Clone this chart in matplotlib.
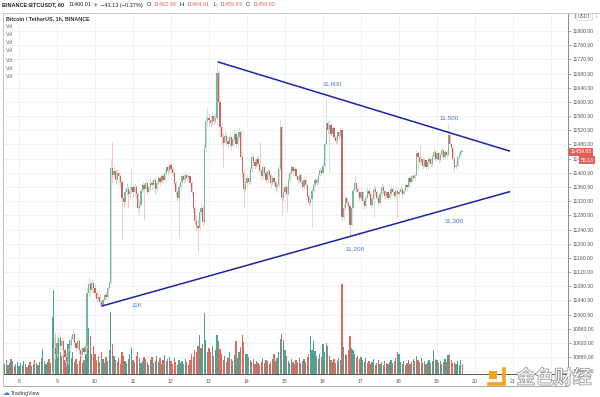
import numpy as np
import matplotlib
matplotlib.use('Agg')
import matplotlib.pyplot as plt
import matplotlib.transforms as mtransforms
import matplotlib.patheffects as pe
from matplotlib.patches import Rectangle

# BTCUSDT 1h candles, 7 Oct 14:00 .. 19 Oct 16:00 (one row per day)
first_open = 10650
closes = [
    10660, 10670, 10665, 10680, 10675, 10690, 10685, 10670, 10680, 10690,
    10700, 10715, 10705, 10725, 10740, 10735, 10750, 10745, 10760, 10770, 10755, 10775, 10785, 10770, 10790, 10800, 10785, 10795, 10810, 10800, 10815, 10825, 10905, 10890,
    10920, 10935, 10910, 10925, 10900, 10880, 10870, 10895, 10915, 10930, 10945, 10920, 10905, 10925, 10900, 10885, 10905, 10895, 10910, 11060, 11085, 11070, 11090, 11075,
    11060, 11045, 11050, 11035, 11025, 11040, 11055, 11050, 11075, 11090, 11414, 11395, 11405, 11380, 11400, 11390, 11375, 11330, 11318, 11345, 11355, 11340, 11350, 11360,
    11345, 11360, 11340, 11300, 11310, 11350, 11365, 11355, 11370, 11345, 11360, 11372, 11365, 11380, 11355, 11370, 11385, 11375, 11390, 11380, 11400, 11415, 11405, 11422,
    11412, 11400, 11370, 11345, 11330, 11360, 11375, 11390, 11380, 11395, 11385, 11390, 11370, 11345, 11300, 11265, 11250, 11245, 11290, 11300, 11260, 11470, 11545, 11555,
    11550, 11540, 11560, 11545, 11555, 11681, 11600, 11530, 11500, 11485, 11505, 11490, 11480, 11500, 11475, 11495, 11510, 11480, 11500, 11515, 11445, 11400, 11355, 11370,
    11385, 11375, 11410, 11445, 11430, 11420, 11440, 11425, 11405, 11390, 11415, 11400, 11380, 11405, 11395, 11370, 11385, 11375, 11360, 11365, 11410, 11529, 11330, 11345,
    11360, 11340, 11380, 11400, 11415, 11405, 11410, 11390, 11380, 11395, 11375, 11360, 11380, 11365, 11335, 11315, 11325, 11350, 11365, 11380, 11370, 11395, 11408, 11400,
    11420, 11480, 11540, 11520, 11535, 11510, 11525, 11500, 11490, 11515, 11505, 11520, 11275, 11300, 11330, 11315, 11305, 11253, 11300, 11350, 11370, 11355, 11345, 11330,
    11345, 11320, 11305, 11330, 11350, 11340, 11310, 11325, 11355, 11345, 11330, 11315, 11340, 11360, 11350, 11335, 11345, 11330, 11340, 11355, 11345, 11335, 11350, 11340,
    11345, 11355, 11340, 11350, 11365, 11360, 11385, 11375, 11390, 11385, 11395, 11456, 11445, 11430, 11440, 11420, 11435, 11415, 11430, 11440, 11425, 11445, 11460, 11440,
    11455, 11435, 11450, 11465, 11445, 11460, 11450, 11507, 11480, 11470, 11440, 11416, 11420, 11445, 11450, 11462.39, 11459.93,
]
highs = [
    10675, 10685, 10680, 10695, 10690, 10700, 10698, 10690, 10692, 10702,
    10712, 10725, 10720, 10735, 10752, 10748, 10760, 10758, 10772, 10782, 10775, 10785, 10796, 10790, 10800, 10812, 10805, 10806, 10822, 10815, 10826, 10840, 10935, 10950,
    10940, 10950, 10940, 10938, 10930, 10905, 10890, 10905, 10925, 10942, 10958, 10950, 10925, 10935, 10930, 10905, 10915, 10912, 10925, 11075, 11106, 11095, 11100, 11095,
    11085, 11068, 11060, 11058, 11042, 11048, 11062, 11065, 11082, 11098, 11440, 11487, 11420, 11410, 11412, 11405, 11398, 11382, 11340, 11360, 11370, 11362, 11365, 11414,
    11365, 11372, 11365, 11345, 11325, 11358, 11378, 11370, 11382, 11375, 11368, 11385, 11380, 11392, 11385, 11378, 11395, 11392, 11398, 11396, 11410, 11425, 11420, 11432,
    11430, 11418, 11405, 11378, 11352, 11370, 11385, 11400, 11396, 11405, 11400, 11398, 11395, 11378, 11350, 11310, 11280, 11270, 11300, 11315, 11310, 11480, 11560, 11586,
    11565, 11560, 11575, 11565, 11568, 11712, 11690, 11605, 11540, 11512, 11520, 11512, 11500, 11512, 11505, 11505, 11522, 11515, 11508, 11525, 11520, 11452, 11410, 11385,
    11395, 11392, 11418, 11455, 11450, 11438, 11450, 11445, 11487, 11410, 11425, 11420, 11405, 11412, 11410, 11398, 11395, 11390, 11380, 11372, 11418, 11549, 11535, 11360,
    11372, 11365, 11385, 11410, 11422, 11420, 11418, 11412, 11395, 11402, 11398, 11380, 11388, 11385, 11368, 11340, 11332, 11358, 11372, 11388, 11385, 11400, 11415, 11412,
    11430, 11490, 11611, 11548, 11545, 11540, 11532, 11528, 11505, 11520, 11518, 11527, 11527, 11312, 11340, 11335, 11320, 11312, 11305, 11355, 11394, 11375, 11362, 11350,
    11360, 11350, 11325, 11340, 11362, 11358, 11345, 11335, 11365, 11362, 11350, 11335, 11348, 11372, 11368, 11355, 11352, 11348, 11350, 11365, 11360, 11348, 11358, 11355,
    11355, 11362, 11358, 11358, 11372, 11370, 11392, 11388, 11398, 11395, 11400, 11465, 11462, 11478, 11448, 11445, 11442, 11435, 11438, 11450, 11442, 11452, 11470, 11465,
    11462, 11458, 11455, 11472, 11468, 11465, 11462, 11540, 11512, 11485, 11475, 11445, 11432, 11450, 11458, 11468, 11464.01,
]
lows = [
    10645, 10655, 10652, 10660, 10665, 10672, 10675, 10660, 10665, 10675,
    10685, 10695, 10698, 10700, 10720, 10725, 10730, 10735, 10740, 10755, 10745, 10750, 10770, 10760, 10765, 10785, 10775, 10780, 10790, 10790, 10795, 10808, 10820, 10875,
    10880, 10910, 10900, 10900, 10885, 10866, 10855, 10860, 10890, 10908, 10925, 10910, 10895, 10900, 10890, 10875, 10880, 10885, 10890, 10905, 11050, 11055, 11060, 11060,
    11050, 11035, 11038, 11028, 11018, 11022, 11035, 11040, 11045, 11068, 11085, 11370, 11385, 11365, 11372, 11375, 11360, 11216, 11300, 11310, 11335, 11300, 11330, 11340,
    11330, 11338, 11330, 11290, 11280, 11305, 11345, 11267, 11350, 11338, 11340, 11352, 11355, 11360, 11340, 11348, 11365, 11365, 11370, 11372, 11378, 11395, 11395, 11400,
    11398, 11390, 11362, 11335, 11320, 11219, 11352, 11368, 11372, 11375, 11378, 11380, 11362, 11335, 11290, 11255, 11240, 11176, 11240, 11280, 11250, 11255, 11460, 11530,
    11530, 11528, 11535, 11535, 11540, 11550, 11590, 11500, 11478, 11416, 11480, 11475, 11468, 11475, 11465, 11470, 11490, 11470, 11472, 11495, 11440, 11385, 11304, 11345,
    11360, 11365, 11370, 11405, 11420, 11410, 11415, 11418, 11400, 11380, 11382, 11390, 11370, 11372, 11385, 11360, 11365, 11365, 11345, 11350, 11360, 11405, 11281, 11320,
    11338, 11290, 11335, 11375, 11395, 11398, 11400, 11385, 11370, 11375, 11368, 11352, 11355, 11358, 11328, 11305, 11308, 11247, 11345, 11360, 11365, 11365, 11390, 11395,
    11395, 11415, 11475, 11510, 11402, 11500, 11505, 11492, 11480, 11485, 11495, 11500, 11265, 11268, 11295, 11305, 11295, 11219, 11250, 11298, 11345, 11350, 11335, 11320,
    11322, 11312, 11298, 11300, 11325, 11332, 11302, 11305, 11275, 11338, 11322, 11305, 11310, 11335, 11340, 11325, 11330, 11322, 11325, 11335, 11338, 11325, 11330, 11272,
    11330, 11340, 11332, 11338, 11345, 11352, 11355, 11368, 11370, 11378, 11380, 11390, 11408, 11425, 11425, 11412, 11415, 11408, 11410, 11425, 11418, 11420, 11440, 11432,
    11432, 11428, 11430, 11445, 11438, 11440, 11442, 11448, 11475, 11462, 11432, 11405, 11410, 11415, 11438, 11445, 11459.93,
]
# volume, in the chart's own units (read as bar heights)
volumes = [
    12, 10, 14, 9, 11, 15, 13, 8, 10, 12,
    8, 11, 9, 13, 10, 7, 9, 12, 8, 10, 14, 11, 9, 12, 16, 25, 13, 10, 12, 15, 11, 57, 84, 40,
    28, 36, 22, 18, 25, 14, 20, 30, 34, 16, 22, 12, 15, 10, 13, 18, 11, 14, 20, 56, 46, 38, 20, 28,
    20, 14, 18, 12, 22, 15, 11, 17, 13, 24, 62, 30, 18, 14, 12, 16, 10, 22, 18, 13, 11, 15, 20, 26,
    14, 12, 18, 22, 16, 11, 13, 17, 15, 12, 9, 14, 17, 11, 13, 18, 12, 16, 10, 14, 19, 13, 15, 17,
    13, 10, 16, 12, 9, 14, 11, 13, 10, 15, 12, 9, 14, 20, 17, 24, 22, 28, 39, 26, 30, 61, 34, 22,
    26, 22, 28, 18, 24, 39, 33, 25, 20, 14, 18, 12, 16, 22, 15, 13, 19, 33, 16, 22, 27, 39, 32, 20,
    20, 17, 14, 12, 15, 10, 13, 11, 9, 12, 16, 11, 14, 13, 10, 12, 15, 20, 13, 16, 22, 35, 40, 34,
    24, 18, 13, 11, 15, 12, 10, 14, 12, 16, 11, 13, 15, 12, 17, 20, 38, 24, 33, 23, 18, 15, 20, 17,
    30, 22, 31, 28, 18, 14, 12, 15, 11, 13, 16, 14, 90, 27, 20, 19, 24, 38, 26, 24, 20, 16, 18, 15,
    17, 14, 12, 16, 11, 13, 10, 12, 15, 9, 11, 14, 10, 12, 9, 13, 11, 10, 12, 14, 11, 13, 16, 22,
    20, 12, 10, 13, 9, 11, 14, 10, 12, 15, 13, 18, 14, 12, 16, 11, 13, 10, 12, 14, 11, 13, 24, 15,
    14, 11, 13, 10, 12, 15, 12, 19, 20, 14, 11, 12, 10, 13, 9, 14, 10,
]

# trend lines drawn on the chart: (day, price) end points
upper_line = [(13.229, 11713), (20.921, 11461)]
lower_line = [(10.176, 11024), (20.921, 11347)]
line_labels = ['11K', '11,600', '11,500', '11,200', '11,300']
label_pos = [(11.097, 11027), (16.23, 11650), (19.31, 11555), (16.84, 11185), (19.44, 11265)]

# header of the chart: text, colour, weight
header = [
    ('BINANCE:BTCUSDT, 60', '#222222', 'bold'),
    ('11460.01', '#222222', 'normal'),
    ('▼', '#e0605a', 'normal'),
    ('−43.13 (−0.37%)', '#222222', 'normal'),
    ('O:', '#222222', 'normal'),
    ('11462.39', '#e0605a', 'normal'),
    ('H:', '#222222', 'normal'),
    ('11464.01', '#e0605a', 'normal'),
    ('L:', '#222222', 'normal'),
    ('11459.93', '#e0605a', 'normal'),
    ('C:', '#222222', 'normal'),
    ('11459.93', '#e0605a', 'normal'),
]

price_ticks = np.arange(10840, 11801, 40)
day_ticks = list(range(8, 23))

W, H = 600, 397
FONT = ['Liberation Sans', 'DejaVu Sans']
plt.rcParams['font.family'] = FONT


def fx(px):
    return px / W


def fy(py):
    return 1 - py / H


closes = np.array(closes, dtype=float)
highs = np.array(highs, dtype=float)
lows = np.array(lows, dtype=float)
volumes = np.array(volumes, dtype=float)
assert len(closes) == len(highs) == len(lows) == len(volumes)
opens = np.r_[first_open, closes[:-1]]
t = 7 + 14 / 24 + np.arange(len(closes)) / 24
up = closes >= opens

fig = plt.figure(figsize=(W / 100, H / 100), dpi=100)
ax = fig.add_axes([fx(3), fy(374), (568 - 3) / W, (374 - 13) / H])
ax.set_autoscale_on(False)
ax.set_xlim(7.579, 22.447)
ax.set_ylim(10832.4, 11850.8)

# grid
ax.set_axisbelow(True)
ax.grid(True, color='#eef1f5', lw=0.6)

# volume in the bottom part of the pane (axes-fraction heights)
vtrans = mtransforms.blended_transform_factory(ax.transData, ax.transAxes)
vol_top = 361.0
ax.bar(t, volumes / vol_top, width=0.8 / 24, bottom=0, transform=vtrans,
       color=np.where(up, '#4ba394', '#e2675d'), lw=0, zorder=2)

# candles
ax.vlines(t, lows, highs, colors=np.where(up, '#c3e0cf', '#f0c0c0'), lw=0.6, zorder=3)
ax.bar(t, np.abs(closes - opens), bottom=np.minimum(opens, closes), width=0.75 / 24,
       color=np.where(up, '#76b995', '#cc6464'), lw=0, zorder=4)

# triangle
for seg in (upper_line, lower_line):
    xs, ys = zip(*seg)
    ax.plot(xs, ys, color='#1c22a8', lw=1.1, zorder=5, solid_capstyle='butt')
for txt, (lx, ly) in zip(line_labels, label_pos):
    ax.text(lx, ly, txt, color='#3f7bc4', fontsize=4.6, ha='center', va='center', zorder=6)

# axes styling
ax.yaxis.tick_right()
ax.set_yticks(price_ticks)
ax.set_yticklabels([f'{p:.2f}' for p in price_ticks])
ax.set_xticks(day_ticks)
ax.set_xticklabels([str(d) if d < 22 else '' for d in day_ticks])
ax.tick_params(axis='y', length=2, width=0.5, color='#888888', pad=1.5,
               labelsize=3.7, labelcolor='#555555')
ax.tick_params(axis='x', length=0, pad=3.4, labelsize=3.7, labelcolor='#555555')
for side in ('top', 'left'):
    ax.spines[side].set_color('#b8bcc4')
    ax.spines[side].set_linewidth(0.6)
ax.spines['right'].set_color('#8c8c8c')
ax.spines['right'].set_linewidth(0.7)
ax.spines['bottom'].set_color('#555555')
ax.spines['bottom'].set_linewidth(0.7)

# time axis band bottom and frame edges
fig.add_artist(plt.Line2D([fx(3), fx(568)], [fy(386), fy(386)], color='#9a9a9a', lw=0.6))
fig.add_artist(plt.Line2D([fx(3), fx(3)], [fy(374), fy(386)], color='#b8bcc4', lw=0.6))
fig.add_artist(plt.Line2D([fx(568), fx(600)], [fy(13), fy(13)], color='#b8bcc4', lw=0.6))

# last price tags
ax.text(1.004, 11459.93, '11459.93', transform=ax.get_yaxis_transform(), fontsize=3.7,
        color='white', va='center', ha='left', zorder=10, clip_on=False,
        bbox=dict(boxstyle='square,pad=0.3', fc='#e0605a', ec='none'))
ax.text(1.022, 11436, '55:13', transform=ax.get_yaxis_transform(), fontsize=3.7,
        color='white', va='center', ha='left', zorder=10, clip_on=False,
        bbox=dict(boxstyle='square,pad=0.3', fc='#e0605a', ec='none'))
fig.text(fx(574), fy(17), '1', fontsize=3.7, color='#555555', va='center')
fig.text(fx(578), fy(17), 'USDT', fontsize=3.5, color='#555555', va='center',
         bbox=dict(boxstyle='round,pad=0.25', fc='white', ec='#c8c8c8', lw=0.4))
fig.text(fx(595), fy(17), '⁝', fontsize=3.7, color='#555555', va='center',
         family=['DejaVu Sans'])

# header line, laid out piece by piece
renderer = fig.canvas.get_renderer()
gaps = [4, 2, 2, 4, 1, 4, 1, 4, 1, 4, 1, 0]
hx = 2
for (txt, col, wt), gap in zip(header, gaps):
    tx = fig.text(fx(hx), fy(5), txt, fontsize=4.0, color=col, weight=wt, va='center',
                  family=FONT)
    hx = tx.get_window_extent(renderer).x1 + gap

fig.text(fx(6), fy(19), 'Bitcoin / TetherUS, 1h, BINANCE', fontsize=3.9,
         color='#333333', weight='bold', va='center')
for vy in (26, 34, 43, 51, 60, 68, 76):
    fig.text(fx(6), fy(vy), 'Vol', fontsize=3.7, color='#666666', va='center')

# TradingView mark
fig.text(fx(3), fy(393), '☁', fontsize=5, color='#2f80ed', va='center',
         family=['DejaVu Sans'])
fig.text(fx(11), fy(393), 'TradingView', fontsize=3.8, color='#333333', va='center')

# watermark
fig.add_artist(Rectangle((fx(489), fy(379)), 8 / W, 8 / H, transform=fig.transFigure,
                         fc='#f5a31a', ec='none', zorder=20))
fig.add_artist(plt.Line2D([fx(504), fx(504), fx(489)], [fy(369), fy(384), fy(384)],
                          color='#f5a31a', lw=2.6, zorder=20, solid_joinstyle='miter'))
fig.text(fx(554), fy(378), '金色财经', fontsize=13.5, color='white', ha='center', va='center',
         family=['Noto Sans CJK SC'], zorder=21,
         path_effects=[pe.withStroke(linewidth=1.2, foreground='#9a9a9a')])

fig.savefig('out.png', dpi=100, facecolor='white')
